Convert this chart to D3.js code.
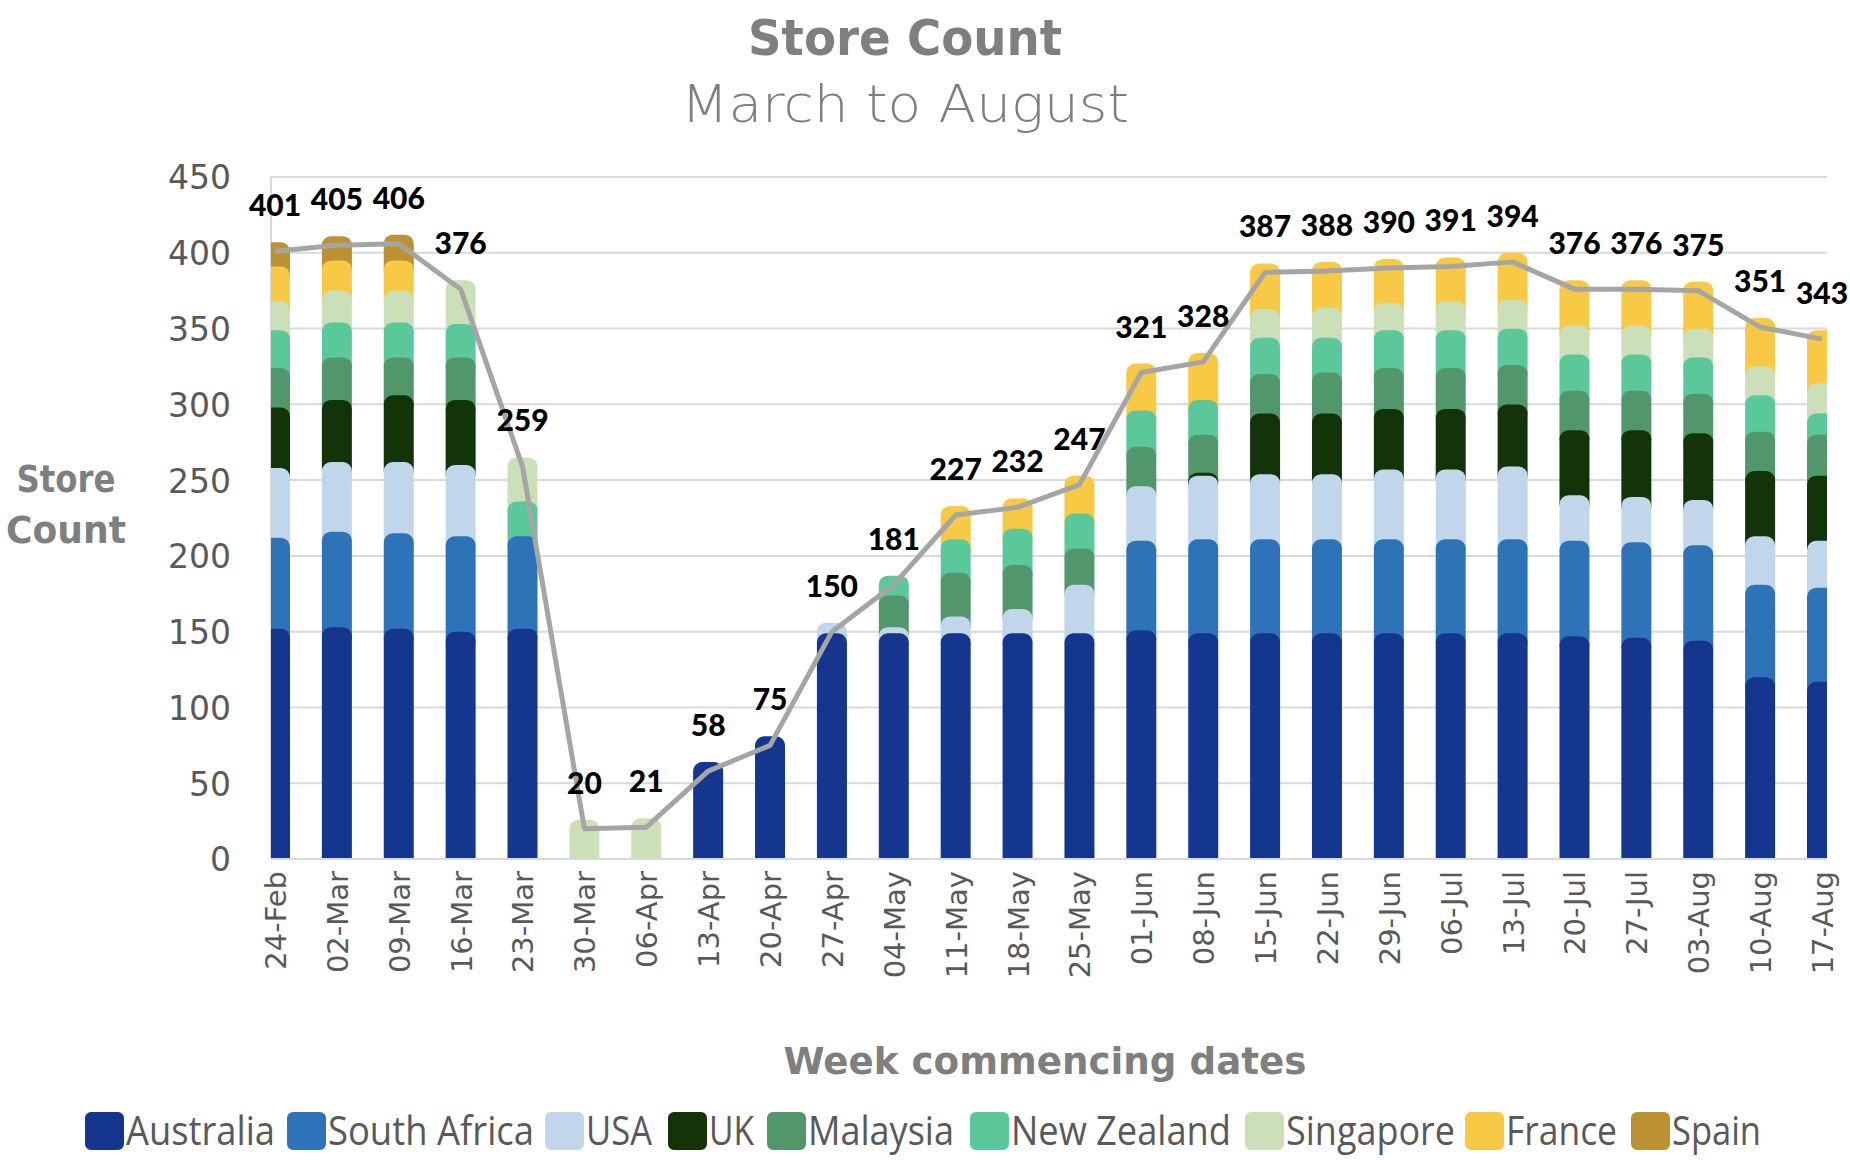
<!DOCTYPE html>
<html>
<head>
<meta charset="utf-8">
<script src="https://cdn.jsdelivr.net/npm/d3@7/dist/d3.min.js"></script>
<style>
  html, body { margin: 0; padding: 0; background: #ffffff; }
  svg { display: block; }
</style>
</head>
<body>
<svg id="chart" width="1850" height="1160"></svg>
<script>
// ---------------- DATA ----------------
const categories = ["24-Feb","02-Mar","09-Mar","16-Mar","23-Mar","30-Mar","06-Apr","13-Apr","20-Apr","27-Apr","04-May","11-May","18-May","25-May","01-Jun","08-Jun","15-Jun","22-Jun","29-Jun","06-Jul","13-Jul","20-Jul","27-Jul","03-Aug","10-Aug","17-Aug"];
const seriesNames = ["Australia","South Africa","USA","UK","Malaysia","New Zealand","Singapore","France","Spain"];
const australia   = [146,147,146,144,146,0,0,58,75,143,143,143,143,143,145,143,143,143,143,143,143,141,140,138,114,111];
const southAfrica = [60,63,63,63,61,0,0,0,0,0,0,0,0,0,59,62,62,62,62,62,62,63,63,63,61,62];
const usa         = [46,46,47,47,0,0,0,0,0,7,4,11,16,32,36,42,43,43,46,46,48,30,30,30,32,31];
const uk          = [40,41,44,43,0,0,0,0,0,0,0,0,0,0,0,2,40,40,40,40,41,43,44,44,43,43];
const malaysia    = [26,28,25,28,0,0,0,0,0,0,21,29,29,24,26,25,26,27,27,27,26,26,26,26,26,27];
const newZealand  = [25,23,23,22,23,0,0,0,0,0,13,22,24,23,24,23,24,23,25,25,24,24,24,24,24,14];
const singapore   = [19,21,21,29,29,20,21,0,0,0,0,0,0,0,0,0,19,20,18,19,19,19,19,19,19,20];
const france      = [23,20,20,0,0,0,0,0,0,0,0,22,20,25,31,31,30,30,29,29,31,30,30,31,32,35];
const spain       = [16,16,17,0,0,0,0,0,0,0,0,0,0,0,0,0,0,0,0,0,0,0,0,0,0,0];
const totals      = [401,405,406,376,259,20,21,58,75,150,181,227,232,247,321,328,387,388,390,391,394,376,376,375,351,343];
const yTicks      = [0,50,100,150,200,250,300,350,400,450];
const seriesColors = ["#14368F","#2E73B8","#C1D6EB","#133409","#52966B","#5AC89A","#CBE0B9","#F7C944","#BB9131"];

const seriesValues = [australia, southAfrica, usa, uk, malaysia, newZealand, singapore, france, spain];

// ---------------- LAYOUT ----------------
const svg = d3.select("#chart");
const plotLeft = 271, plotRight = 1827, plotTop = 177, plotBottom = 859;

const x = d3.scalePoint().domain(categories).range([275, 1822]);
const y = d3.scaleLinear().domain([0, 450]).range([plotBottom, plotTop]);

const textGray = "#595959";
const titleGray = "#7F7F7F";

// gridlines
svg.append("g").selectAll("line").data(yTicks).join("line")
  .attr("x1", plotLeft).attr("x2", plotRight)
  .attr("y1", d => y(d)).attr("y2", d => y(d))
  .attr("stroke", "#D9D9D9").attr("stroke-width", 2);
svg.append("line").attr("x1", plotLeft).attr("x2", plotLeft)
  .attr("y1", plotTop).attr("y2", plotBottom)
  .attr("stroke", "#D9D9D9").attr("stroke-width", 2);

// y axis labels
const yAxis = d3.axisLeft(y).tickValues(yTicks).tickSize(0).tickPadding(0);
const yg = svg.append("g").attr("transform", `translate(231,0)`).call(yAxis);
yg.select(".domain").remove();
yg.selectAll("text").attr("font-family", "DejaVu Sans").attr("font-size", 33)
  .attr("fill", textGray).attr("dy", "0.36em");

// stacked bars
const stack = d3.stack().keys(d3.range(seriesNames.length))
  .value((d, k) => seriesValues[k][d]);
const stacked = stack(d3.range(categories.length));

svg.append("defs").append("clipPath").attr("id", "plotClip")
  .append("rect").attr("x", plotLeft).attr("y", 0)
  .attr("width", plotRight - plotLeft).attr("height", plotBottom + 1);

const barsG = svg.append("g").attr("clip-path", "url(#plotClip)");
const innerW = 12, strokeW = 18;
// draw top series first so lower series overlap their bottoms
for (let k = stacked.length - 1; k >= 0; k--) {
  const layer = stacked[k];
  barsG.append("g").selectAll("rect")
    .data(layer.map((s, i) => ({s, i})).filter(d => d.s[1] - d.s[0] > 0))
    .join("rect")
    .attr("x", d => x(categories[d.i]) - innerW / 2)
    .attr("width", innerW)
    .attr("y", d => y(d.s[1]))
    .attr("height", d => y(d.s[0]) - y(d.s[1]))
    .attr("fill", seriesColors[k])
    .attr("stroke", seriesColors[k])
    .attr("stroke-width", strokeW)
    .attr("stroke-linejoin", "round");
}

// axis baseline
svg.append("line").attr("x1", plotLeft).attr("x2", plotRight)
  .attr("y1", plotBottom).attr("y2", plotBottom)
  .attr("stroke", "#D9D9D9").attr("stroke-width", 2);

// x axis labels
const xAxis = d3.axisBottom(x).tickSize(0).tickPadding(0);
const xg = svg.append("g").attr("transform", `translate(0,${plotBottom})`).call(xAxis);
xg.select(".domain").remove();
xg.selectAll("text")
  .attr("font-family", "DejaVu Sans").attr("font-size", 29).attr("fill", textGray)
  .attr("text-anchor", "end")
  .attr("transform", "rotate(-90)")
  .attr("x", -12).attr("y", 0).attr("dy", "0.36em");

// totals line
const line = d3.line().x((d, i) => x(categories[i])).y(d => y(d));
svg.append("path").datum(totals).attr("d", line)
  .attr("fill", "none").attr("stroke", "#A5A5A5").attr("stroke-width", 5)
  .attr("stroke-linejoin", "round");

// data labels
svg.append("g").selectAll("text").data(totals).join("text")
  .attr("x", (d, i) => x(categories[i]))
  .attr("y", d => y(d) - 35)
  .attr("text-anchor", "middle")
  .attr("font-family", "Lato").attr("font-weight", "900").attr("font-size", 30)
  .attr("fill", "#000000")
  .text(d => d);

// titles
svg.append("text").attr("x", 905).attr("y", 55).attr("text-anchor", "middle")
  .attr("font-family", "DejaVu Sans").attr("font-weight", "bold").attr("font-size", 50)
  .attr("fill", titleGray).attr("textLength", 314).attr("lengthAdjust", "spacingAndGlyphs")
  .text("Store Count");
svg.append("text").attr("x", 905).attr("y", 122).attr("text-anchor", "middle")
  .attr("font-family", "DejaVu Sans").attr("font-weight", "300").attr("font-size", 52)
  .attr("fill", titleGray).attr("textLength", 448).attr("lengthAdjust", "spacingAndGlyphs")
  .text("March to August");

// y axis title
const yTitle = svg.append("text").attr("text-anchor", "middle")
  .attr("font-family", "DejaVu Sans").attr("font-weight", "bold").attr("font-size", 38)
  .attr("fill", titleGray);
yTitle.append("tspan").attr("x", 66).attr("y", 492)
  .attr("textLength", 99).attr("lengthAdjust", "spacingAndGlyphs").text("Store");
yTitle.append("tspan").attr("x", 66).attr("y", 543)
  .attr("textLength", 120).attr("lengthAdjust", "spacingAndGlyphs").text("Count");

// x axis title
svg.append("text").attr("x", 1045).attr("y", 1074).attr("text-anchor", "middle")
  .attr("font-family", "DejaVu Sans").attr("font-weight", "bold").attr("font-size", 38)
  .attr("fill", titleGray).attr("textLength", 523).attr("lengthAdjust", "spacingAndGlyphs")
  .text("Week commencing dates");

// legend
const legendX = [85, 287, 545, 668, 767, 970, 1245, 1465, 1631];
const legendTextW = [149, 206, 66, 45, 146, 220, 169, 111, 89];
const lg = svg.append("g");
seriesNames.forEach((name, k) => {
  lg.append("rect").attr("x", legendX[k] + 6).attr("y", 1118)
    .attr("width", 27).attr("height", 26)
    .attr("fill", seriesColors[k]).attr("stroke", seriesColors[k])
    .attr("stroke-width", 12).attr("stroke-linejoin", "round");
  lg.append("text").attr("x", legendX[k] + 41).attr("y", 1145)
    .attr("font-family", "Open Sans").attr("font-size", 40).attr("fill", textGray)
    .attr("textLength", legendTextW[k]).attr("lengthAdjust", "spacingAndGlyphs")
    .text(name);
});
</script>
</body>
</html>
